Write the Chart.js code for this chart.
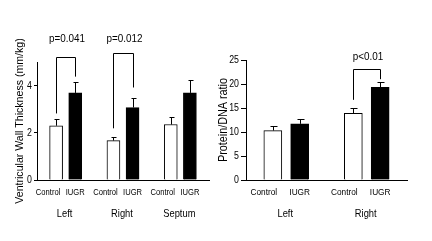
<!DOCTYPE html>
<html lang="en">
<head>
<meta charset="UTF-8" />
<title>Wall thickness and protein/DNA ratio</title>
<script src="https://cdn.jsdelivr.net/npm/chart.js"></script>
<style>
  body { margin: 0; background: #fff; width: 432px; height: 241px; overflow: hidden; }
  .panel { position: absolute; top: 0; width: 216px; height: 241px; }
  #leftPanel { left: 0; }
  #rightPanel { left: 216px; }
</style>
</head>
<body>
<div class="panel" id="leftPanel"><canvas id="wallChart" width="216" height="241"></canvas></div>
<div class="panel" id="rightPanel"><canvas id="ratioChart" width="216" height="241"></canvas></div>
<script>
// left panel: ventricular wall thickness (mm/kg)
const wallGroups = ["Left", "Right", "Septum"];
const wallControl = [2.30, 1.67, 2.35];
const wallIugr = [3.69, 3.07, 3.69];
const wallControlErr = [0.27, 0.14, 0.30];
const wallIugrErr = [0.45, 0.41, 0.56];
const wallTicks = [0, 2, 4];
// significance brackets (group index, text, top, leg ends)
const wallPGroups = [0, 1];
const wallPText = ["p=0.041", "p=0.012"];
const wallPTop = [5.22, 5.39];
const wallPLegControl = [2.82, 2.19];
const wallPLegIugr = [4.38, 3.92];

// right panel: protein/DNA ratio
const ratioGroups = ["Left", "Right"];
const ratioControl = [10.3, 13.9];
const ratioIugr = [11.7, 19.3];
const ratioControlErr = [1.0, 1.0];
const ratioIugrErr = [1.0, 1.05];
const ratioTicks = [0, 5, 10, 15, 20, 25];
const ratioPGroups = [1];
const ratioPText = ["p<0.01"];
const ratioPTop = [23.1];
const ratioPLegControl = [16.7];
const ratioPLegIugr = [21.0];

const seriesNames = ["Control", "IUGR"];
const sans = "'Liberation Sans', Arial, sans-serif";

// one empty slot before and after every Control/IUGR pair
function slotLabels(groups) {
  const out = [""];
  groups.forEach(() => out.push(seriesNames[0], seriesNames[1], ""));
  return out;
}
function spread(values, offset) {
  const out = new Array(1 + values.length * 3).fill(null);
  values.forEach((v, g) => { out[1 + g * 3 + offset] = v; });
  return out;
}

// the original type is a narrow Arial, so squeeze text horizontally
function label(ctx, s, x, y, size, sx, align, base, rot) {
  ctx.save();
  ctx.translate(x, y);
  if (rot) ctx.rotate(-Math.PI / 2);
  ctx.font = size + "px " + sans;
  ctx.textAlign = align;
  ctx.textBaseline = base;
  ctx.fillText(s, 0, 0, ctx.measureText(s).width * sx);
  ctx.restore();
}

const extrasPlugin = {
  id: "extras",
  afterDraw(chart, args, o) {
    const ctx = chart.ctx;
    const xs = chart.scales.x, ys = chart.scales.y;
    const area = chart.chartArea;
    ctx.save();
    ctx.strokeStyle = "#000";
    ctx.fillStyle = "#000";
    ctx.lineWidth = 1;

    // error bars, upper side only
    [o.ctrlErr, o.iugrErr].forEach((errs, ds) => {
      const meta = chart.getDatasetMeta(ds);
      const vals = chart.data.datasets[ds].data;
      errs.forEach((e, g) => {
        const i = 1 + g * 3 + ds;
        const bar = meta.data[i];
        const x = Math.round(bar.x) + 0.5;
        const top = Math.round(ys.getPixelForValue(vals[i] + e)) + 0.5;
        ctx.beginPath();
        ctx.moveTo(x, bar.y);
        ctx.lineTo(x, top);
        ctx.moveTo(x - o.cap, top);
        ctx.lineTo(x + o.cap + 1, top);
        ctx.stroke();
      });
    });

    // significance brackets
    o.pGroups.forEach((g, k) => {
      const x1 = Math.round(xs.getPixelForValue(1 + g * 3)) + 0.5;
      const x2 = Math.round(xs.getPixelForValue(2 + g * 3)) + 0.5;
      const yt = Math.round(ys.getPixelForValue(o.pTop[k])) + 0.5;
      ctx.beginPath();
      ctx.moveTo(x1, ys.getPixelForValue(o.legC[k]));
      ctx.lineTo(x1, yt);
      ctx.lineTo(x2, yt);
      ctx.lineTo(x2, ys.getPixelForValue(o.legI[k]));
      ctx.stroke();
      label(ctx, o.pText[k], (x1 + x2) / 2 + 1, o.pY, 11.5, 0.86, "center", "alphabetic");
    });

    // y tick labels
    o.ticks.forEach(v => {
      label(ctx, String(v), area.left - o.tickGap, ys.getPixelForValue(v), 11, 0.8, "right", "middle");
    });
    // y title
    label(ctx, o.title, o.titleX, (area.top + area.bottom) / 2, o.titleSize, o.titleSx, "center", "middle", true);

    // Control / IUGR under each bar, and group names below
    o.groups.forEach((name, g) => {
      const xc = xs.getPixelForValue(1 + g * 3);
      const xi = xs.getPixelForValue(2 + g * 3);
      label(ctx, seriesNames[0], xc + o.ctrlShift, 194.5, 9.5, o.labelSx, "center", "alphabetic");
      label(ctx, seriesNames[1], xi, 194.5, 9.5, o.labelSx, "center", "alphabetic");
      label(ctx, name, (xc + xi) / 2 - 1, 216.5, 11, 0.85, "center", "alphabetic");
    });
    ctx.restore();
  }
};

function makeChart(id, p) {
  return new Chart(document.getElementById(id), {
    type: "bar",
    data: {
      labels: slotLabels(p.groups),
      datasets: [
        { label: seriesNames[0], data: spread(p.control, 0), backgroundColor: "#fff",
          borderColor: "#000", borderWidth: 1 },
        { label: seriesNames[1], data: spread(p.iugr, 1), backgroundColor: "#000",
          borderColor: "#000", borderWidth: 1 }
      ]
    },
    plugins: [extrasPlugin],
    options: {
      responsive: false,
      animation: false,
      events: [],
      layout: { padding: p.padding },
      datasets: { bar: { grouped: false, barThickness: p.barWidth } },
      plugins: {
        legend: { display: false },
        tooltip: { enabled: false },
        extras: {
          groups: p.groups, ctrlErr: p.ctrlErr, iugrErr: p.iugrErr, cap: p.cap,
          pGroups: p.pGroups, pText: p.pText, pTop: p.pTop, legC: p.legC, legI: p.legI,
          pY: p.pY, ticks: p.ticks, tickGap: p.tickLen + 2, title: p.title,
          titleX: p.titleX, titleSize: p.titleSize, titleSx: p.titleSx,
          ctrlShift: p.ctrlShift, labelSx: p.labelSx
        }
      },
      scales: {
        x: {
          offset: false,
          grid: { display: false, drawTicks: false },
          border: { color: "#000", width: 1 },
          ticks: { display: false },
          afterFit: s => { s.height = 61; }
        },
        y: {
          min: 0,
          max: p.yMax,
          grid: { drawOnChartArea: false, drawTicks: true, tickLength: p.tickLen, color: "#000" },
          border: { color: "#000", width: 1 },
          afterBuildTicks: s => { s.ticks = p.ticks.map(v => ({ value: v })); },
          ticks: { display: false },
          afterFit: s => { s.width = p.axisWidth; }
        }
      }
    }
  });
}

makeChart("wallChart", {
  groups: wallGroups, control: wallControl, iugr: wallIugr,
  ctrlErr: wallControlErr, iugrErr: wallIugrErr, ticks: wallTicks, yMax: 5,
  pGroups: wallPGroups, pText: wallPText, pTop: wallPTop, legC: wallPLegControl, legI: wallPLegIugr,
  title: "Ventricular Wall Thickness (mm/kg)", titleX: 20, titleSize: 11.5, titleSx: 0.92, pY: 42,
  padding: { top: 62, right: 7, left: 0, bottom: 0 }, axisWidth: 37, barWidth: 13,
  tickLen: 3, cap: 2, ctrlShift: -8, labelSx: 0.8
});

makeChart("ratioChart", {
  groups: ratioGroups, control: ratioControl, iugr: ratioIugr,
  ctrlErr: ratioControlErr, iugrErr: ratioIugrErr, ticks: ratioTicks, yMax: 25,
  pGroups: ratioPGroups, pText: ratioPText, pTop: ratioPTop, legC: ratioPLegControl, legI: ratioPLegIugr,
  title: "Protein/DNA ratio", titleX: 8, titleSize: 12, titleSx: 0.9, pY: 60,
  padding: { top: 60, right: 25, left: 0, bottom: 0 }, axisWidth: 30, barWidth: 18,
  tickLen: 5, cap: 3, ctrlShift: -9, labelSx: 0.87
});
</script>
</body>
</html>
